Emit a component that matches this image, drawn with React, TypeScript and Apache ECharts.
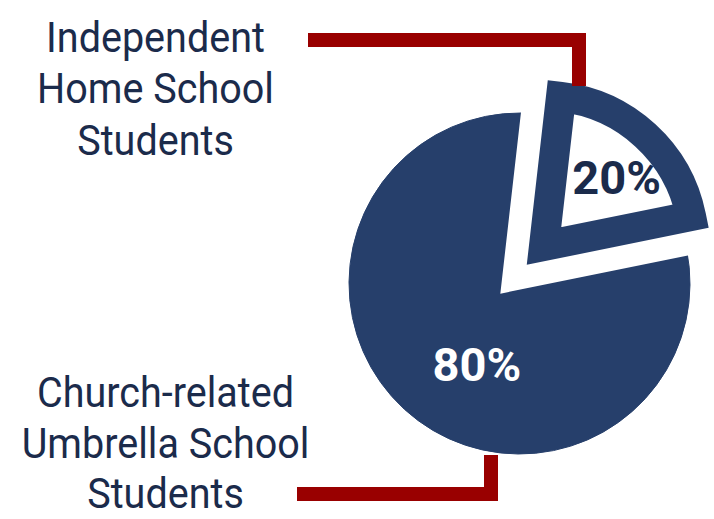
import React, { useEffect, useRef } from "react";
import * as echarts from "echarts";

const categories = ["Independent Home School Students", "Church-related Umbrella School Students"];
const shares = [20, 80];
const topLabel = ["Independent", "Home School", "Students"];
const bottomLabel = ["Church-related", "Umbrella School", "Students"];

const NAVY = "#263F6B";
const TEXT = "#1B2B4B";
const RED = "#990000";

function labelLines(lines: string[], cx: number, ys: number[]) {
  return lines.map((t, i) => ({
    type: "text",
    z: 10,
    x: cx,
    y: ys[i],
    scaleX: 0.92,
    style: {
      text: t,
      x: 0,
      y: 0,
      align: "center",
      verticalAlign: "middle",
      fontFamily: "Roboto",
      fontSize: 43,
      lineHeight: 40,
      fill: TEXT,
    },
  }));
}

export default function App() {
  const ref = useRef<HTMLDivElement>(null);
  useEffect(() => {
    if (!ref.current) return;
    const chart = echarts.init(ref.current, null, { renderer: "svg" });
    const fullCircle = categories.map((name, i) => ({
      name,
      value: shares[i],
      itemStyle: { color: NAVY, borderColor: NAVY, borderWidth: 1 },
      label: { show: i === 1 },
    }));
    const halo = categories.map((name, i) => ({
      name,
      value: shares[i],
      itemStyle:
        i === 0
          ? { color: "#fff", borderColor: "#fff", borderWidth: 76, borderJoin: "miter", borderMiterLimit: 10 }
          : { color: "transparent", borderWidth: 0 },
      label: { show: false },
    }));
    const wedge = categories.map((name, i) => ({
      name,
      value: shares[i],
      itemStyle:
        i === 0
          ? { color: "#fff", borderColor: NAVY, borderWidth: 30, borderJoin: "miter", borderMiterLimit: 10 }
          : { color: "transparent", borderWidth: 0 },
      label: { show: i === 0 },
    }));
    const common = {
      type: "pie",
      startAngle: 83.5,
      clockwise: true,
      silent: true,
      avoidLabelOverlap: false,
      labelLine: { show: false },
      emphasis: { disabled: true },
    };
    chart.setOption({
      animation: false,
      backgroundColor: "#fff",
      series: [
        {
          ...common,
          z: 1,
          center: [519.5, 283.5],
          radius: 170.5,
          data: fullCircle,
          label: {
            position: "inside",
            formatter: "{c}%",
            color: "#fff",
            fontFamily: "Roboto",
            fontWeight: "bold",
            fontSize: 47,
          },
          labelLayout: { dx: 17, dy: 16 },
        },
        {
          ...common,
          z: 2,
          center: [544, 246],
          radius: 150,
          data: halo,
        },
        {
          ...common,
          z: 3,
          center: [544, 246],
          radius: 150,
          data: wedge,
          label: {
            position: "inside",
            formatter: "{c}%",
            color: TEXT,
            fontFamily: "Roboto",
            fontWeight: "bold",
            fontSize: 47,
          },
          labelLayout: { dx: 20, dy: -11 },
        },
      ],
      graphic: [
        {
          type: "polyline",
          z: 10,
          shape: { points: [[308, 40], [579, 40], [579, 86]] },
          style: { stroke: RED, lineWidth: 14, fill: "none", lineJoin: "miter" },
        },
        {
          type: "polyline",
          z: 10,
          shape: { points: [[297, 494], [491, 494], [491, 455]] },
          style: { stroke: RED, lineWidth: 14, fill: "none", lineJoin: "miter" },
        },
        ...labelLines(topLabel, 155.5, [37, 88.5, 140]),
        ...labelLines(bottomLabel, 165.5, [392, 443, 493.5]),
      ],
    });
    return () => chart.dispose();
  }, []);
  return (
    <div
      ref={ref}
      style={{ position: "absolute", left: 0, top: 0, width: 714, height: 519, background: "#fff" }}
    />
  );
}
